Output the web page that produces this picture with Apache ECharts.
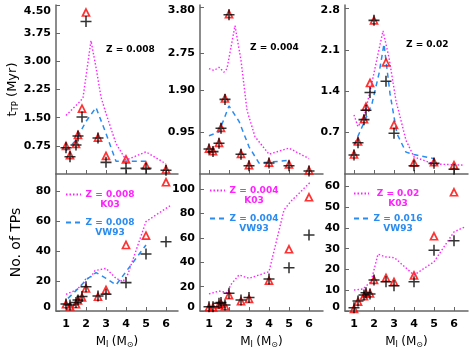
<!DOCTYPE html>
<html><head><meta charset="utf-8">
<script src="https://cdn.jsdelivr.net/npm/echarts@6/dist/echarts.min.js"></script>
<style>html,body{margin:0;padding:0;background:#fff}#c{width:475px;height:350px}</style>
</head><body><div id="c"></div>
<script>
// ---------- data ----------
const masses = [1.0, 1.2, 1.5, 1.6, 1.8, 2.0, 2.6, 3.0, 4.0, 5.0, 6.0];
const xTicks = [1, 2, 3, 4, 5, 6];

// top row: t_TP (Myr)
const tCross008 = [0.70, 0.46, 0.77, 1.01, 1.52, 4.06, 0.96, 0.31, 0.15, 0.15, 0.10];
const tTri008   = [0.75, 0.50, 0.80, 1.04, 1.74, 4.30, 0.97, 0.48, 0.39, 0.22, 0.12];
const tCross004 = [0.57, 0.51, 0.70, 1.04, 1.70, 3.63, 0.45, 0.19, 0.25, 0.19, 0.07];
const tTri004   = [0.58, 0.52, 0.71, 1.05, 1.72, 3.64, 0.46, 0.20, 0.26, 0.22, 0.08];
const tCross02  = [0.32, 0.53, 0.92, 1.08, 1.38, 2.60, 1.57, 0.69, 0.14, 0.18, 0.08];
const tTri02    = [0.33, 0.55, 0.93, 1.14, 1.54, 2.60, 1.89, 0.83, 0.19, 0.20, 0.15];

const k03T008 = [[1,1.56],[1.7,1.93],[1.85,2.03],[2.25,3.55],[2.5,2.84],[2.75,2.05],[3,1.61],[3.5,0.81],[4,0.37],[5,0.59],[6,0.27]];
const vwT008  = [[1,0.62],[1.5,0.90],[2,1.40],[2.5,1.77],[3,1.08],[3.5,0.34],[4,0.34],[5,0.34]];
const k03T004 = [[1,2.40],[1.25,2.36],[1.5,2.43],[1.75,2.32],[1.9,2.40],[2.3,3.38],[2.6,2.59],[2.9,1.45],[3.3,0.85],[4,0.45],[5,0.59],[6,0.35]];
const vwT004  = [[1,0.87],[1.5,0.96],[2,1.55],[2.5,1.20],[3,0.62],[3.5,0.25],[4,0.27],[5,0.31]];
const k03T02  = [[1,1.00],[1.2,0.80],[1.5,0.96],[1.85,1.47],[2.2,2.03],[2.45,2.42],[2.75,1.97],[3.1,1.24],[3.6,0.57],[4,0.29],[5,0.17],[6.5,0.15]];
const vwT02   = [[1,0.49],[1.5,0.87],[1.9,1.19],[2.25,1.70],[2.5,2.20],[2.8,1.36],[3.15,0.68],[3.6,0.37],[4,0.33],[5,0.26]];

// bottom row: number of TPs
const nCross008 = [4.7, 4.0, 5.6, 7.3, 9.6, 16.2, 10.0, 11.1, 18.9, 38.0, 46.2];
const nTri008   = [4.5, 3.0, 4.5, 7.0, 9.0, 15.0, 9.5, 14.0, 44.0, 50.2, 85.8];
const nCross004 = [3.5, 3.5, 6.3, 7.0, 4.9, 14.5, 9.0, 11.0, 26.3, 35.6, 62.4];
const nTri004   = [3.0, 3.0, 5.0, 6.0, 4.0, 13.0, 8.0, 10.0, 25.0, 50.7, 93.4];
const nCross02  = [1.6, 4.8, 7.7, 8.8, 8.2, 14.9, 14.1, 12.2, 14.1, 29.3, 33.8];
const nTri02    = [1.0, 4.5, 7.2, 8.5, 8.5, 15.0, 16.0, 14.0, 17.1, 36.0, 57.2];

const k03N008 = [[1,11.1],[1.5,14],[1.87,18.4],[2,21.8],[2.2,21.8],[2.45,26.9],[3,28.4],[3.5,21.8],[3.85,19.6],[4.1,24.7],[5,59.6],[6,68.4],[6.2,70]];
const vwN008  = [[1.1,8.4],[1.7,16.2],[2,20.7],[2.5,25.6],[3,21.8],[3.5,17.3],[4,26.2],[5,44]];
const k03N004 = [[1,14],[1.5,16.4],[1.92,15],[2.08,21.4],[2.5,29.6],[3,26.8],[4,32.3],[4.75,83],[5.08,89.8],[6.08,106]];
const k03N02  = [[1,10.1],[1.44,10.6],[1.85,14.1],[2.2,27.4],[2.57,26.1],[3.02,25.7],[4,17.3],[5,23.7],[6,38.1],[6.54,40.5]];

const yTicksT = [[0.75,1.50,2.25,3.00,3.75,4.50],[0.95,1.90,2.75,3.80],[0.7,1.4,2.1,2.8]];
const yDecT = [2, 2, 1];
const yTicksN = [[0,20,40,60,80],[0,20,40,60,80,100],[0,10,20,30,40,50,60]];
const panelZ = ['Z = 0.008', 'Z = 0.004', 'Z = 0.02'];
const legK03 = ['Z = 0.008', 'Z = 0.004', 'Z = 0.02'];
const legVW = ['Z = 0.008', 'Z = 0.004', 'Z = 0.016'];

// ---------- style ----------
const FONT = 'DejaVu Sans';
const MAG = '#ff22ff', BLU = '#2a8cf0', RED = '#ff0000', AX = '#666';
const CROSS = 'path://M0,4.3H4.3V0H5.7V4.3H10V5.7H5.7V10H4.3V5.7H0Z';

const lefts = [56, 200, 345], widths = [122, 123, 123];
const xMin = [0.5, 0.55, 0.55], xMax = [6.6, 6.7, 6.7];
const yMaxT = [4.5, 3.85, 2.86], yMaxN = [91.3, 112.5, 66];
const topPad = [12, 6, 3];

const grids = [], xAxes = [], yAxes = [], series = [], titles = [], legends = [];
const lblBase = {color:'#000', fontSize:11, fontWeight:'bold', fontFamily:FONT};
const nameRich = {m:{fontSize:13, fontFamily:FONT, color:'#000'}, s:{fontSize:8.5, fontFamily:FONT, color:'#000', padding:[6,0,0,0]}};

for (let r = 0; r < 2; r++) {
  for (let c = 0; c < 3; c++) {
    const gi = r*3 + c;
    grids.push(r === 0 ? {left:lefts[c], top:5, width:widths[c], height:169}
                       : {left:lefts[c], top:174, width:widths[c], height:137});
    const xa = {type:'value', gridIndex:gi, min:xMin[c], max:xMax[c],
      axisLine:{show:true, onZero:false, lineStyle:{color:AX, width:1.5}},
      axisTick:{show:true, inside:true, length:4, customValues:xTicks, lineStyle:{color:AX, width:1}},
      axisLabel:Object.assign({show:r===1, customValues:xTicks, margin:8}, lblBase),
      splitLine:{show:false}};
    if (r === 1) {
      xa.name = '{m|M}{s|I} {m|(M}{s|⊙}{m|)}';
      xa.nameLocation = 'middle'; xa.nameGap = 24;
      xa.nameTextStyle = {rich:{m:{fontSize:12, fontFamily:FONT, color:'#000'}, s:{fontSize:8, fontFamily:FONT, color:'#000', padding:[6,0,0,0]}}};
    }
    xAxes.push(xa);
    let ticks, fmt, ya;
    if (r === 0) {
      ticks = yTicksT[c];
      const top = ticks[ticks.length-1], d = yDecT[c], tp = topPad[c];
      fmt = v => Math.abs(v-top) < 1e-6 ? '{t|' + v.toFixed(d) + '}' : v.toFixed(d);
      ya = {type:'value', gridIndex:gi, min:0, max:yMaxT[c],
        axisLabel:Object.assign({customValues:ticks, formatter:fmt, margin:5,
          rich:{t:Object.assign({padding:[tp,0,0,0]}, lblBase)}}, lblBase)};
      if (c === 0) {
        ya.name = '{m|t}{s|TP}{m| (Myr)}';
        ya.nameLocation = 'middle'; ya.nameGap = 34;
        ya.nameTextStyle = {rich:nameRich};
      }
    } else {
      ticks = yTicksN[c];
      fmt = v => v === 0 ? '{b|0}' : String(v);
      ya = {type:'value', gridIndex:gi, min:0, max:yMaxN[c],
        axisLabel:Object.assign({customValues:ticks, formatter:fmt, margin:5,
          rich:{b:Object.assign({padding:[0,0,8,0]}, lblBase)}}, lblBase)};
      if (c === 0) {
        ya.name = 'No. of TPs';
        ya.nameLocation = 'middle'; ya.nameGap = 33;
        ya.nameTextStyle = {fontSize:14, fontFamily:FONT, color:'#000'};
      }
    }
    ya.axisLine = {show:true, lineStyle:{color:AX, width:1.5}};
    ya.axisTick = {show:true, inside:true, length:4, customValues:ticks, lineStyle:{color:AX, width:1}};
    ya.splitLine = {show:false};
    yAxes.push(ya);
  }
}

const tData = [[tCross008,tTri008,k03T008,vwT008],[tCross004,tTri004,k03T004,vwT004],[tCross02,tTri02,k03T02,vwT02]];
const nData = [[nCross008,nTri008,k03N008,vwN008],[nCross004,nTri004,k03N004,[]],[nCross02,nTri02,k03N02,[]]];
const pair = (xs, ys) => xs.map((x,i) => [x, ys[i]]);

function addPanel(gi, d, kName, vName) {
  series.push({type:'line', name:kName, xAxisIndex:gi, yAxisIndex:gi, data:d[2], symbol:'none', legendIcon:'none',
    lineStyle:{color:MAG, width:1.4, type:[1.5,2]}, itemStyle:{color:MAG}, z:2, silent:true});
  series.push({type:'line', name:vName, xAxisIndex:gi, yAxisIndex:gi, data:d[3], symbol:'none', legendIcon:'none',
    lineStyle:{color:BLU, width:1.5, type:[5,4]}, itemStyle:{color:BLU}, z:2, silent:true});
  series.push({type:'scatter', xAxisIndex:gi, yAxisIndex:gi, data:pair(masses, d[1]), symbol:'triangle', symbolSize:7,
    itemStyle:{color:'rgba(0,0,0,0)', borderColor:RED, borderWidth:1.7}, z:3, silent:true});
  series.push({type:'scatter', xAxisIndex:gi, yAxisIndex:gi, data:pair(masses, d[0]), symbol:CROSS, symbolSize:11,
    itemStyle:{color:'#000'}, z:4, silent:true});
}
for (let c = 0; c < 3; c++) {
  addPanel(c, tData[c], 'tk' + c, 'tv' + c);
  addPanel(3+c, nData[c], 'K03|' + legK03[c], 'VW93|' + legVW[c]);
  titles.push({text:panelZ[c], left:[106,250,406][c], top:[45,43,40][c], padding:0,
    textStyle:{fontSize:9, fontWeight:'bold', fontFamily:FONT, color:'#000'}});
}
const legTop = [[195,223],[191,219],[194,219]];
const legLeft = [65, 209, 353];
function legFmt(name) {
  const p = name.split('|');
  return '{e| }\n{a|' + p[1] + '}\n{b|' + p[0] + '}';
}
for (let c = 0; c < 3; c++) {
  [['K03|' + legK03[c], MAG, 0], ['VW93|' + legVW[c], BLU, 1]].forEach(([nm, col, k]) => {
    legends.push({data:[nm], left:legLeft[c], top:legTop[c][k] - 15, orient:'vertical',
      itemWidth:15, itemHeight:10, itemGap:0, padding:0, selectedMode:false, formatter:legFmt,
      itemStyle:{opacity:0},
      textStyle:{rich:{
        e:{fontSize:9, lineHeight:10},
        a:{fontSize:9, fontWeight:'bold', fontFamily:FONT, color:col, lineHeight:10, width:48, align:'center'},
        b:{fontSize:9, fontWeight:'bold', fontFamily:FONT, color:col, lineHeight:10, width:48, align:'center'}}}});
  });
}

const chart = echarts.init(document.getElementById('c'), null, {renderer:'canvas'});
chart.setOption({animation:false, backgroundColor:'#fff', title:titles, legend:legends,
  grid:grids, xAxis:xAxes, yAxis:yAxes, series:series});
</script></body></html>
